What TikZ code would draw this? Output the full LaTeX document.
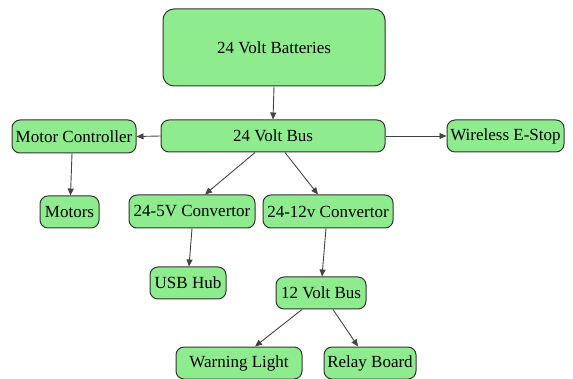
\documentclass[tikz,border=0pt]{standalone}
\usepackage{fontspec}
\setmainfont{Liberation Serif}
\usetikzlibrary{arrows.meta}
\definecolor{boxfill}{HTML}{8EEB8E}
\definecolor{boxline}{HTML}{333333}
\definecolor{edge}{HTML}{444444}
\begin{document}
\begin{tikzpicture}[x=1pt,y=-1pt,
  box/.style={draw=boxline, fill=boxfill, line width=1pt, rounded corners=8pt,
    inner sep=0pt, font=\fontsize{17}{20}\selectfont, text=black},
  conn/.style={draw=edge, line width=0.9pt, -{Triangle[length=7pt,width=6pt]}}]
\useasboundingbox (0,0) rectangle (573,379);
\node[box, rounded corners=11pt, minimum width=222pt, minimum height=77pt] (bat) at (274,47.5) {24 Volt Batteries};
\node[box, minimum width=224pt, minimum height=32pt] (bus) at (273,136) {24 Volt Bus};
\node[box, minimum width=124pt, minimum height=33pt] (mc) at (74,136.5) {Motor Controller};
\node[box, minimum width=117pt, minimum height=32pt] (es) at (505.5,136) {Wireless E-Stop};
\node[box, minimum width=59pt, minimum height=32pt] (mot) at (69.5,212) {Motors};
\node[box, minimum width=126pt, minimum height=33pt] (c5) at (192,211.5) {24-5V Convertor};
\node[box, minimum width=130pt, minimum height=33pt] (c12) at (328,211.5) {24-12v Convertor};
\node[box, minimum width=76pt, minimum height=32pt] (usb) at (188,283) {USB Hub};
\node[box, minimum width=90pt, minimum height=32pt] (b12) at (321,293) {12 Volt Bus};
\node[box, minimum width=126pt, minimum height=32pt] (wl) at (239,363) {Warning Light};
\node[box, minimum width=92pt, minimum height=32pt] (rb) at (370,363) {Relay Board};
\draw[conn] (bat.south) -- (bus.north);
\draw[conn] (bus.west) -- (mc.east);
\draw[conn] (bus.east) -- (es.west);
\draw[conn] ([xshift=-2pt]mc.south) -- ([xshift=1pt]mot.north);
\draw[conn] ([xshift=-18pt]bus.south) -- ([xshift=13pt]c5.north);
\draw[conn] ([xshift=12pt]bus.south) -- ([xshift=-10pt]c12.north);
\draw[conn] ([xshift=0pt]c5.south) -- ([xshift=1pt]usb.north);
\draw[conn] ([xshift=-2pt]c12.south) -- ([xshift=1pt]b12.north);
\draw[conn] ([xshift=-19pt]b12.south) -- ([xshift=16pt]wl.north);
\draw[conn] ([xshift=12pt]b12.south) -- ([xshift=-12pt]rb.north);
\end{tikzpicture}
\end{document}
